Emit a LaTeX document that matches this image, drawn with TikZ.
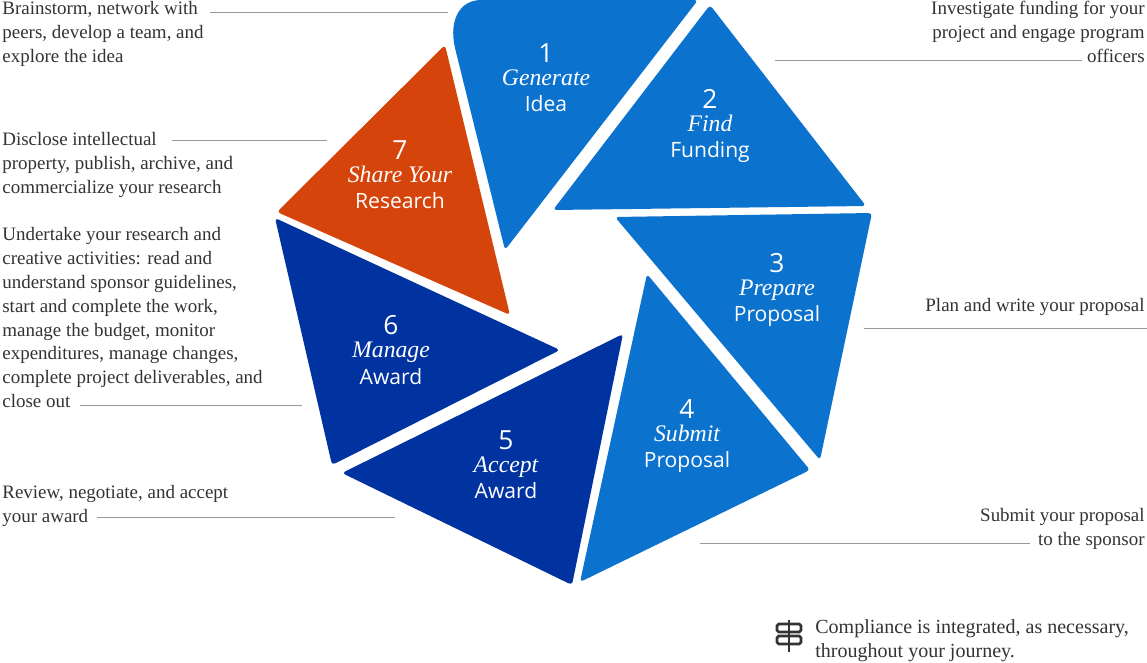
\documentclass[tikz,border=0pt]{standalone}
\usepackage{fontspec}
\setmainfont{Liberation Serif}
\setsansfont{Open Sans}
\definecolor{midblue}{HTML}{0B72CE}
\definecolor{darkblue}{HTML}{0033A0}
\definecolor{rust}{HTML}{D5450B}
\definecolor{txtgray}{HTML}{333333}
\tikzset{
  piece/.style={rounded corners=2pt},
  steplabel/.style={text=white, align=center, font=\sffamily\fontsize{12}{14}\selectfont, inner sep=0pt},
  note/.style={text=txtgray, font=\fontsize{10.8}{13.6}\selectfont, inner sep=0pt},
  leader/.style={draw=gray!80, line width=0.5pt}
}
\newcommand{\steptext}[3]{{\fontsize{15}{16}\selectfont #1}\\[-1pt]{\rmfamily\itshape\fontsize{13.5}{15}\selectfont #2}\\[1pt]#3}
\begin{document}
\begin{tikzpicture}[x=0.02cm,y=-0.02cm]
  \useasboundingbox (0,0) rectangle (1147,663);

  % the seven pieces
  \fill[midblue,piece] (698,0) -- (485,0) .. controls (458,0) and (450,22) .. (455,48) -- (505,250) -- cycle;
  \fill[midblue,piece] (710,5) -- (866,206) -- (553,210) -- cycle;
  \fill[midblue,piece] (615,217) -- (872,213) -- (820,460) -- cycle;
  \fill[midblue,piece] (647,274) -- (810,470) -- (580,582) -- cycle;
  \fill[darkblue,piece] (623,334) -- (572,585) -- (342,473) -- cycle;
  \fill[darkblue,piece] (275,218) -- (560,350) -- (332,465) -- cycle;
  \fill[rust,piece] (445,45) -- (510,315) -- (277,212) -- cycle;

  % labels
  \node[steplabel] (generate) at (546,78) {\steptext{1}{Generate}{Idea}};
  \node[steplabel] (funding) at (710,126) {\steptext{2}{Find}{Funding}};
  \node[steplabel] (prepare) at (777,290) {\steptext{3}{Prepare}{Proposal}};
  \node[steplabel] (submit) at (687,436) {\steptext{4}{Submit}{Proposal}};
  \node[steplabel] (accept) at (506,465) {\steptext{5}{Accept}{Award}};
  \node[steplabel] (manage) at (391,350) {\steptext{6}{Manage}{Award}};
  \node[steplabel] (share) at (400,175) {\steptext{7}{Share Your}{Research}};

  % notes on the left
  \node[note,anchor=north west,align=left] (brainstorm) at (2,1) {Brainstorm, network with\\peers, develop a team, and\\explore the idea};
  \coordinate (brainstormend) at (448,12);
  \draw[leader] (210,12) -- (brainstormend);
  \node[note,anchor=north west,align=left] (disclose) at (2,132) {Disclose intellectual\\property, publish, archive, and\\commercialize your research};
  \coordinate (discloseend) at (327,140);
  \draw[leader] (172,140) -- (discloseend);
  \node[note,anchor=north west,align=left] (undertake) at (2,227) {Undertake your research and\\creative activities: read and\\understand sponsor guidelines,\\start and complete the work,\\manage the budget, monitor\\expenditures, manage changes,\\complete project deliverables, and\\close out};
  \coordinate (undertakeend) at (302,405);
  \draw[leader] (80,405) -- (undertakeend);
  \node[note,anchor=north west,align=left] (review) at (2,485) {Review, negotiate, and accept\\your award};
  \coordinate (reviewend) at (395,517);
  \draw[leader] (97,517) -- (reviewend);

  % notes on the right
  \node[note,anchor=north east,align=right] (investigate) at (1145,1) {Investigate funding for your\\project and engage program\\officers};
  \coordinate (investigateend) at (775,60);
  \draw[leader] (1082,60) -- (investigateend);
  \node[note,anchor=north east,align=right] (plan) at (1145,298) {Plan and write your proposal};
  \coordinate (planend) at (864,328);
  \draw[leader] (1147,328) -- (planend);
  \node[note,anchor=north east,align=right] (submitnote) at (1145,508) {Submit your proposal\\to the sponsor};
  \coordinate (submitend) at (700,543);
  \draw[leader] (1030,543) -- (submitend);

  % compliance
  \draw[txtgray,line width=1.6pt] (789,620) -- (789,652);
  \draw[txtgray,line width=1.6pt,rounded corners=1pt] (777,624) rectangle (801,632);
  \draw[txtgray,line width=1.6pt,rounded corners=1pt] (777,636) rectangle (801,644);
  \node[note,anchor=north west,align=left,font=\fontsize{11.4}{13.6}\selectfont] (compliance) at (815,619) {Compliance is integrated, as necessary,\\throughout your journey.};
\end{tikzpicture}
\end{document}
